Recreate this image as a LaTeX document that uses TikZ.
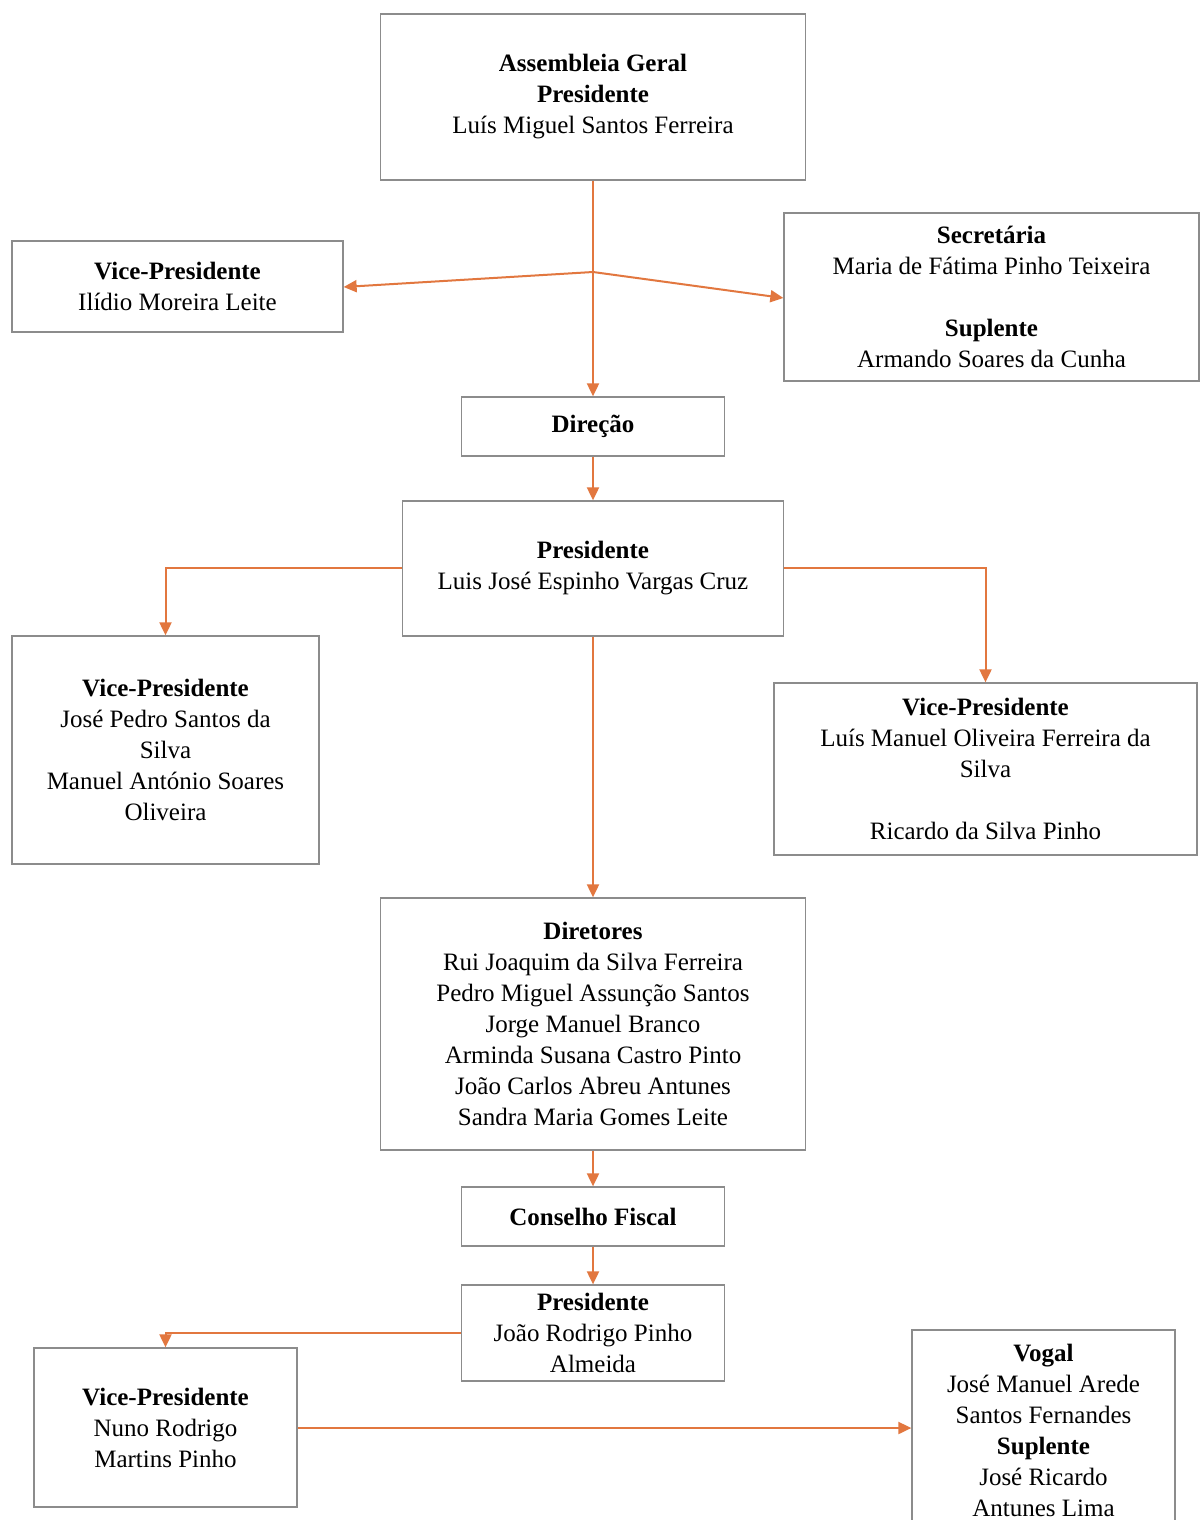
\documentclass[tikz,border=0pt]{standalone}
\usepackage{fontspec}
\setmainfont{Liberation Serif}
\usetikzlibrary{arrows.meta}
\definecolor{conn}{HTML}{E2773F}
\definecolor{frame}{HTML}{8C8C8C}
\tikzset{
  box/.style={draw=frame, line width=1.3pt, fill=white, align=center, inner sep=0pt,
    font={\fontsize{25}{31}\selectfont}},
  link/.style={draw=conn, line width=2pt, -{Triangle[length=13pt,width=12pt]}}
}
\begin{document}
\begin{tikzpicture}[x=1pt,y=-1pt]
\useasboundingbox (0,0) rectangle (1200,1520);
\fill[white] (0,0) rectangle (1200,1520);

\node[box, minimum width=425pt, minimum height=166pt] (ag) at (593,97)
  {\textbf{Assembleia Geral}\\\textbf{Presidente}\\Luís Miguel Santos Ferreira};
\node[box, minimum width=331pt, minimum height=91pt] (vp1) at (177.5,286.5)
  {\textbf{Vice-Presidente}\\Ilídio Moreira Leite};
\node[box, minimum width=415pt, minimum height=168pt] (sec) at (991.5,297)
  {\textbf{Secretária}\\Maria de Fátima Pinho Teixeira\\[31pt]\textbf{Suplente}\\Armando Soares da Cunha};
\node[box, minimum width=263pt, minimum height=59pt] (dir) at (593,426.5)
  {\textbf{Direção}};
\node[box, minimum width=381pt, minimum height=135pt] (pres) at (593,568.5)
  {\textbf{Presidente}\\Luis José Espinho Vargas Cruz};
\node[box, minimum width=307pt, minimum height=228pt] (vpl) at (165.5,750)
  {\textbf{Vice-Presidente}\\José Pedro Santos da\\Silva\\Manuel António Soares\\Oliveira};
\node[box, minimum width=423pt, minimum height=172pt] (vpr) at (985.5,769)
  {\textbf{Vice-Presidente}\\Luís Manuel Oliveira Ferreira da\\Silva\\[31pt]Ricardo da Silva Pinho};
\node[box, minimum width=425pt, minimum height=252pt] (dirs) at (593,1024)
  {\textbf{Diretores}\\Rui Joaquim da Silva Ferreira\\Pedro Miguel Assunção Santos\\Jorge Manuel Branco\\Arminda Susana Castro Pinto\\João Carlos Abreu Antunes\\Sandra Maria Gomes Leite};
\node[box, minimum width=263pt, minimum height=59pt] (cf) at (593,1216.5)
  {\textbf{Conselho Fiscal}};
\node[box, minimum width=263pt, minimum height=96pt] (pcf) at (593,1333)
  {\textbf{Presidente}\\João Rodrigo Pinho\\Almeida};
\node[box, minimum width=263pt, minimum height=159pt] (vcf) at (165.5,1427.5)
  {\textbf{Vice-Presidente}\\Nuno Rodrigo\\Martins Pinho};
\node[box, minimum width=263pt, minimum height=200pt] (vog) at (1043.5,1430)
  {\textbf{Vogal}\\José Manuel Arede\\Santos Fernandes\\\textbf{Suplente}\\José Ricardo\\Antunes Lima};

\coordinate (fork) at (593,272);
\draw[link] (ag.south) -- (dir.north);
\draw[link] (fork) -- (vp1.east |- 0,287);
\draw[link] (fork) -- (sec.west |- 0,298);
\draw[link] (dir.south) -- (pres.north);
\draw[link] (pres.west |- 0,568) -| (vpl.north);
\draw[link] (pres.east |- 0,568) -| (vpr.north);
\draw[link] (pres.south) -- (dirs.north);
\draw[link] (dirs.south) -- (cf.north);
\draw[link] (cf.south) -- (pcf.north);
\draw[link] (pcf.west |- 0,1333) -| (vcf.north);
\draw[link] (vcf.east |- 0,1428) -- (vog.west |- 0,1428);
\end{tikzpicture}
\end{document}
